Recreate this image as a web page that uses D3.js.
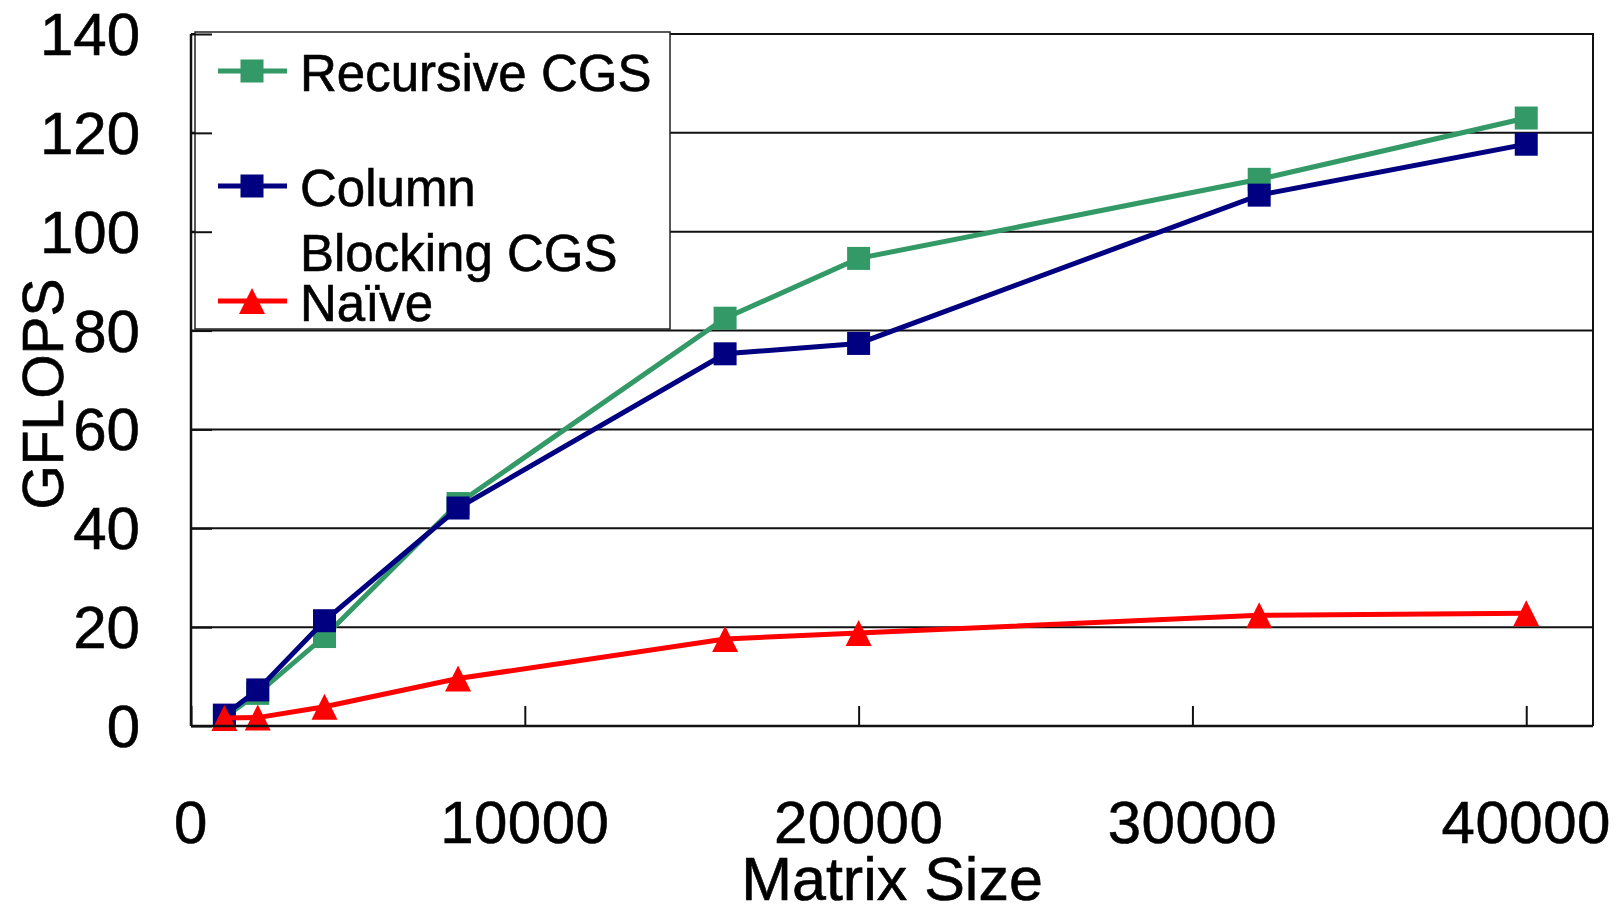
<!DOCTYPE html>
<html>
<head>
<meta charset="utf-8">
<script src="https://cdnjs.cloudflare.com/ajax/libs/d3/7.8.5/d3.min.js"></script>
<style>
  html, body { margin: 0; padding: 0; background: #fff; }
  svg { display: block; }
  text { font-family: "Liberation Sans", Arial, sans-serif; fill: #000; stroke: #000; stroke-width: 0.6px; }
</style>
</head>
<body>
<svg id="chart" width="1618" height="907"></svg>
<script>
// ---- data ----
const matrixSizes = [1000, 2000, 4000, 8000, 16000, 20000, 32000, 40000];
const recursiveCGS = [1.8, 6.6, 18.1, 45.0, 82.5, 94.6, 110.6, 123.0];
const columnBlockingCGS = [2.2, 7.3, 21.3, 44.1, 75.3, 77.4, 107.4, 117.7];
const naive = [1.6, 1.7, 3.9, 9.6, 17.6, 18.8, 22.4, 22.8];
const xTicks = [0, 10000, 20000, 30000, 40000];
const yTicks = [0, 20, 40, 60, 80, 100, 120, 140];
const seriesNames = ["Recursive CGS", "Column\nBlocking CGS", "Naïve"];
const seriesColors = ["#339966", "#000080", "#ff0000"];
const seriesMarkers = ["square", "square", "triangle"];

// ---- layout ----
const L = 191, R = 1593, T = 34, B = 726;
const svg = d3.select("#chart");
const x = d3.scaleLinear().domain([0, 42000]).range([L, R]);
const y = d3.scaleLinear().domain([0, 140]).range([B, T]);

// gridlines
svg.append("g").selectAll("line").data(yTicks.filter(v => v > 0 && v < 140)).join("line")
  .attr("x1", L).attr("x2", R).attr("y1", d => y(d)).attr("y2", d => y(d))
  .attr("stroke", "#111").attr("stroke-width", 2);

// plot frame (top, right)
svg.append("path")
  .attr("d", `M${L},${y(140)}H${R}V${B}`)
  .attr("fill", "none").attr("stroke", "#111").attr("stroke-width", 2);

const series = [recursiveCGS, columnBlockingCGS, naive];
const line = d3.line().x(d => x(d[0])).y(d => y(d[1]));
const SQ = 23, TRI = 26;
const triPath = (cx, cy) => `M${cx},${cy - TRI / 2}L${cx + TRI / 2},${cy + TRI / 2}L${cx - TRI / 2},${cy + TRI / 2}Z`;

function drawMarker(g, kind, cx, cy, color) {
  if (kind === "square") {
    g.append("rect").attr("x", cx - SQ / 2).attr("y", cy - SQ / 2)
      .attr("width", SQ).attr("height", SQ).attr("fill", color);
  } else {
    g.append("path").attr("d", triPath(cx, cy)).attr("fill", color);
  }
}

series.forEach((vals, i) => {
  const pts = matrixSizes.map((s, j) => [s, vals[j]]);
  const g = svg.append("g");
  g.append("path").attr("d", line(pts)).attr("fill", "none")
    .attr("stroke", seriesColors[i]).attr("stroke-width", 5).attr("stroke-linejoin", "miter");
  pts.forEach(p => drawMarker(g, seriesMarkers[i], x(p[0]), y(p[1]), seriesColors[i]));
});

// legend
const lg = svg.append("g");
lg.append("rect").attr("x", 195).attr("y", 32).attr("width", 475).attr("height", 297)
  .attr("fill", "#fff").attr("stroke", "#222").attr("stroke-width", 1.5);
const legendLineY = [71, 186, 301];
seriesNames.forEach((name, i) => {
  const ly = legendLineY[i];
  lg.append("line").attr("x1", 218).attr("x2", 287).attr("y1", ly).attr("y2", ly)
    .attr("stroke", seriesColors[i]).attr("stroke-width", 5);
  drawMarker(lg, seriesMarkers[i], 252, ly, seriesColors[i]);
  name.split("\n").forEach((part, k) => {
    lg.append("text").attr("x", 300).attr("y", ly + 20 + k * 65)
      .attr("font-size", 51).text(part);
  });
});

// axes with inward ticks
const yAxis = d3.axisRight(y).tickValues(yTicks).tickSize(21).tickFormat("");
const ya = svg.append("g").attr("transform", `translate(${L},0)`).call(yAxis);
ya.select(".domain").attr("stroke", "#111").attr("stroke-width", 2.5).attr("d", `M0,${T}V${B}`);
ya.selectAll(".tick line").attr("stroke", "#111").attr("stroke-width", 2);

const xAxis = d3.axisTop(x).tickValues(xTicks).tickSize(20).tickFormat("");
const xa = svg.append("g").attr("transform", `translate(0,${B})`).call(xAxis);
xa.select(".domain").attr("stroke", "#111").attr("stroke-width", 2.5).attr("d", `M${L},0H${R}`);
xa.selectAll(".tick line").attr("stroke", "#111").attr("stroke-width", 2);

// tick labels
svg.append("g").selectAll("text").data(yTicks).join("text")
  .attr("x", 140).attr("y", d => y(d) + 21).attr("text-anchor", "end")
  .attr("font-size", 60).text(d => d);
svg.append("g").selectAll("text").data(xTicks).join("text")
  .attr("x", d => x(d)).attr("y", 843).attr("text-anchor", "middle")
  .attr("font-size", 60).attr("letter-spacing", 0.5).text(d => d);

// axis titles
svg.append("text").attr("x", (L + R) / 2).attr("y", 900).attr("text-anchor", "middle")
  .attr("font-size", 61).text("Matrix Size");
svg.append("text").attr("transform", "translate(63,394) rotate(-90)")
  .attr("text-anchor", "middle").attr("font-size", 57).text("GFLOPS");
</script>
</body>
</html>
